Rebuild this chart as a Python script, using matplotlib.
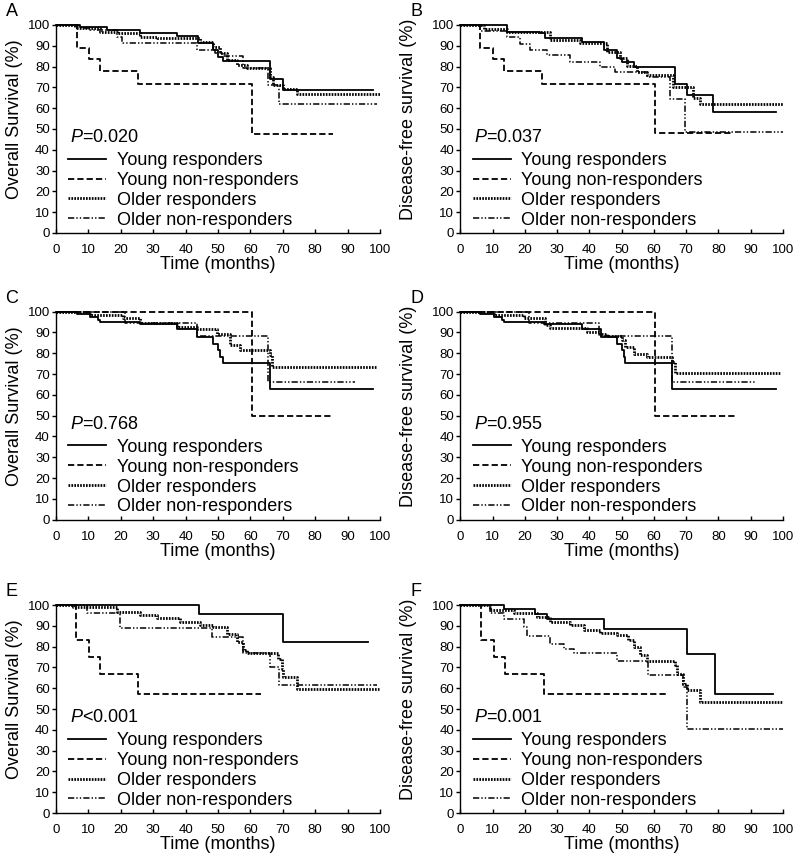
import matplotlib
matplotlib.use("Agg")
import matplotlib.pyplot as plt

plt.rcParams['font.family'] = ['Liberation Sans', 'DejaVu Sans']
plt.rcParams['mathtext.fontset'] = 'custom'
plt.rcParams['mathtext.rm'] = 'Liberation Sans'
plt.rcParams['mathtext.it'] = 'Liberation Sans:italic'
plt.rcParams['lines.scale_dashes'] = False

# Kaplan-Meier step data (time in months, survival in %)
# Panel A - overall survival, all patients
a_yr_t = [0, 7.4, 15.6, 25.9, 37.2, 43.9, 48.6, 50.1, 51.6, 66.0, 70.0, 97.9]
a_yr_s = [100, 99.2, 97.6, 96.0, 94.8, 91.1, 87.9, 84.7, 82.6, 73.9, 68.6, 68.6]
a_yn_t = [0, 6.4, 10.3, 13.6, 25.4, 60.6, 85.4]
a_yn_s = [100, 88.7, 83.4, 77.8, 71.8, 47.7, 47.7]
a_or_t = [0, 6.4, 13.6, 18.7, 25.9, 31.1, 44.4, 48.6, 50.6, 52.7, 55.8, 58.8, 66.0, 67.1, 70.2, 74.3, 100]
a_or_s = [100, 98.4, 96.8, 96.0, 94.4, 93.6, 91.9, 89.5, 86.3, 83.1, 80.7, 79.1, 75.0, 71.0, 69.4, 67.0, 67.0]
a_on_t = [0, 5.9, 10.5, 18.9, 20.3, 20.8, 43.4, 49.1, 51.6, 57.8, 65.5, 68.9, 99]
a_on_s = [100, 98.4, 97.6, 94.4, 91.9, 91.1, 88.2, 86.3, 85.2, 79.1, 71.0, 62.2, 62.2]

# Panel B - disease-free survival, all patients
b_yr_t = [0, 14.4, 24.8, 26.3, 37.7, 44.4, 48.5, 50.1, 53.7, 66.6, 70.2, 78.4, 97.8]
b_yr_s = [100, 96.8, 96.0, 93.6, 91.9, 87.9, 84.0, 82.0, 79.9, 71.8, 66.5, 58.1, 58.1]
b_yn_t = [0, 6.2, 10.1, 13.4, 25.3, 60.4, 84.6]
b_yn_s = [100, 88.7, 83.4, 77.9, 71.8, 48.0, 48.0]
b_or_t = [0, 7.2, 14.4, 27.9, 37.2, 45.4, 49.5, 51.6, 54.7, 57.8, 66.0, 72.2, 74.3, 100]
b_or_s = [100, 98.0, 96.8, 92.8, 91.5, 87.1, 84.0, 80.5, 77.5, 75.8, 70.2, 64.9, 62.2, 62.2]
b_on_t = [0, 6.2, 14.4, 18.6, 21.7, 26.8, 34.1, 43.3, 47.9, 57.8, 65.0, 69.7, 100]
b_on_s = [100, 97.0, 94.4, 91.0, 87.9, 85.5, 82.3, 79.9, 77.5, 75.0, 64.6, 48.5, 48.5]

# Panel C - overall survival, subgroup 2
c_yr_t = [0, 6.4, 10.5, 13.1, 13.6, 25.9, 37.2, 43.4, 48.6, 50.1, 50.6, 51.4, 66.0, 97.7]
c_yr_s = [100, 98.9, 97.6, 96.0, 95.2, 93.9, 91.5, 87.9, 84.7, 81.5, 78.2, 75.3, 62.6, 62.6]
c_yn_t = [0, 60.5, 85.6]
c_yn_s = [100, 50.0, 50.0]
c_or_t = [0, 10.5, 20.8, 25.9, 37.2, 43.4, 49.6, 53.7, 56.8, 66.0, 66.6, 99]
c_or_s = [100, 98.4, 96.8, 94.4, 92.7, 91.5, 89.5, 83.9, 81.5, 79.0, 73.4, 73.4]
c_on_t = [0, 21.3, 43.4, 65.5, 92.3]
c_on_s = [100, 94.4, 88.2, 66.1, 66.1]

# Panel D - disease-free survival, subgroup 2
d_yr_t = [0, 6.2, 10.3, 12.9, 13.4, 25.8, 37.7, 43.7, 48.5, 50.0, 50.6, 51.1, 65.5, 97.8]
d_yr_s = [100, 98.9, 97.6, 96.0, 95.2, 93.9, 91.5, 87.9, 84.7, 81.5, 78.2, 75.3, 62.6, 62.6]
d_yn_t = [0, 60.4, 85.7]
d_yn_s = [100, 50.0, 50.0]
d_or_t = [0, 10.3, 19.6, 26.3, 27.9, 39.2, 43.3, 45.4, 50.1, 51.1, 53.7, 57.8, 65.5, 66.6, 99.1]
d_or_s = [100, 98.4, 96.8, 93.5, 92.3, 90.3, 89.5, 88.2, 86.3, 83.1, 79.8, 78.2, 75.8, 70.5, 70.5]
d_on_t = [0, 21.2, 43.1, 65.5, 91.8]
d_on_s = [100, 94.4, 88.2, 66.1, 66.1]

# Panel E - overall survival, subgroup 3
e_yr_t = [0, 44.2, 70.2, 96.4]
e_yr_s = [100, 95.5, 82.0, 82.0]
e_yn_t = [0, 6.2, 10.3, 13.6, 25.4, 63.2]
e_yn_s = [100, 83.4, 75.0, 66.7, 57.2, 57.2]
e_or_t = [0, 5.3, 18.7, 25.9, 31.1, 38.3, 44.4, 48.6, 52.7, 55.8, 57.8, 58.8, 68.6, 69.7, 70.2, 74.3, 99.8]
e_or_s = [100, 99.2, 96.8, 95.2, 93.6, 91.9, 90.3, 89.5, 86.3, 82.3, 78.3, 76.7, 74.2, 69.4, 65.4, 59.7, 59.7]
e_on_t = [0, 9.5, 19.8, 48.0, 57.8, 66.0, 68.9, 99]
e_on_s = [100, 96.0, 89.0, 84.4, 77.0, 70.0, 61.4, 61.4]

# Panel F - disease-free survival, subgroup 3
f_yr_t = [0, 13.4, 23.0, 26.8, 44.4, 70.2, 78.9, 96.8]
f_yr_s = [100, 97.9, 95.7, 93.2, 88.7, 76.3, 57.3, 57.3]
f_yn_t = [0, 6.5, 10.3, 13.7, 25.8, 63.8]
f_yn_s = [100, 83.4, 75.0, 66.7, 57.3, 57.3]
f_or_t = [0, 9.3, 16.5, 23.7, 27.9, 34.1, 38.2, 43.3, 48.5, 52.1, 53.7, 55.7, 57.8, 66.6, 67.3, 69.1, 70.2, 74.3, 100]
f_or_s = [100, 97.6, 96.0, 94.4, 91.9, 90.3, 88.2, 86.6, 85.5, 83.1, 79.9, 75.8, 73.1, 71.0, 67.0, 62.2, 59.0, 53.3, 53.3]
f_on_t = [0, 9.3, 13.4, 19.6, 20.6, 27.9, 32.0, 35.1, 48.5, 58.3, 69.1, 70.2, 70.4, 100]
f_on_s = [100, 96.0, 93.1, 89.5, 85.0, 81.5, 79.1, 77.0, 73.1, 66.2, 60.5, 52.5, 40.4, 40.4]

group_labels = ["Young responders", "Young non-responders", "Older responders", "Older non-responders"]
panel_letters = ["A", "B", "C", "D", "E", "F"]
p_values = ["=0.020", "=0.037", "=0.768", "=0.955", "<0.001", "=0.001"]
y_labels = ["Overall Survival (%)", "Disease-free survival (%)"]

panels = [
    [(a_yr_t, a_yr_s), (a_yn_t, a_yn_s), (a_or_t, a_or_s), (a_on_t, a_on_s)],
    [(b_yr_t, b_yr_s), (b_yn_t, b_yn_s), (b_or_t, b_or_s), (b_on_t, b_on_s)],
    [(c_yr_t, c_yr_s), (c_yn_t, c_yn_s), (c_or_t, c_or_s), (c_on_t, c_on_s)],
    [(d_yr_t, d_yr_s), (d_yn_t, d_yn_s), (d_or_t, d_or_s), (d_on_t, d_on_s)],
    [(e_yr_t, e_yr_s), (e_yn_t, e_yn_s), (e_or_t, e_or_s), (e_on_t, e_on_s)],
    [(f_yr_t, f_yr_s), (f_yn_t, f_yn_s), (f_or_t, f_or_s), (f_on_t, f_on_s)],
]

styles = [
    dict(linestyle='-', linewidth=1.3),
    dict(linestyle=(0, (4.5, 2.2)), linewidth=1.3),
    dict(linestyle=(0, (1.2, 0.9)), linewidth=2.0),
    dict(linestyle=(0, (4.5, 1.5, 1.0, 1.5, 1.0, 1.5)), linewidth=1.1),
]

fig = plt.figure(figsize=(8, 8.61), dpi=100)

lefts = [0.07, 0.5756]
widths = [0.405, 0.403]
bottoms = [0.7294, 0.3964, 0.0557]
height = 0.2416

for i in range(6):
    row, col = i // 2, i % 2
    ax = fig.add_axes([lefts[col], bottoms[row], widths[col], height])
    for (t, s), st in zip(panels[i], styles):
        ax.step(t, s, where='post', color='black', clip_on=False, **st)

    ax.set_xlim(0, 100)
    ax.set_ylim(0, 100)
    ax.set_xticks(range(0, 101, 10))
    ax.set_yticks(range(0, 101, 10))
    ax.spines['top'].set_visible(False)
    ax.spines['right'].set_visible(False)
    for sp in ['left', 'bottom']:
        ax.spines[sp].set_linewidth(1.0)
    ax.tick_params(axis='x', direction='in', length=3, width=1.0, labelsize=9.5, pad=8)
    ax.tick_params(axis='y', direction='out', length=3, width=1.0, labelsize=9.5, pad=1.5)

    ax.set_xlabel("Time (months)", fontsize=13, labelpad=0)
    ax.set_ylabel(y_labels[col], fontsize=13)
    ax.yaxis.set_label_coords(-0.102 if col == 0 else -0.135, 0.545)

    ax.text(4.3, 45.7, r"$P$" + p_values[i], fontsize=13, va='center', ha='left')
    ax.legend(group_labels, loc='lower left', bbox_to_anchor=(0.032, 0.012),
              frameon=False, fontsize=13, handlelength=2.1, handletextpad=0.6,
              labelspacing=0.16, borderpad=0.1, borderaxespad=0.0)

    fig.text(lefts[col] - 0.063, bottoms[row] + height + 0.006, panel_letters[i],
             fontsize=13, ha='left', va='bottom')

fig.savefig("out.png", dpi=100)
